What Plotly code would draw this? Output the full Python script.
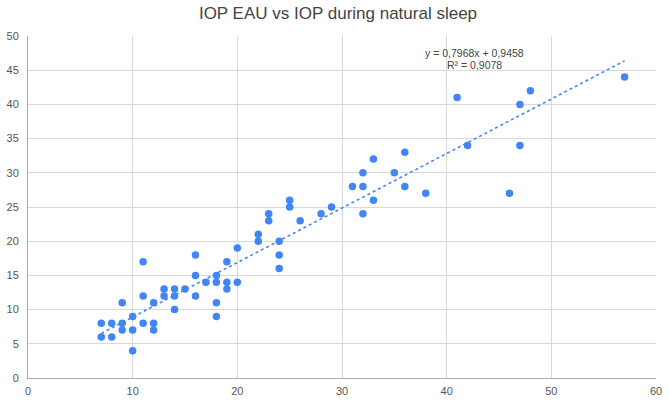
import plotly.graph_objects as go

# IOP during natural sleep (x) vs IOP EAU (y)
iop_sleep = [7, 7, 8, 8, 9, 9, 9, 10, 10, 10, 11, 11, 11, 12, 12, 12, 13, 13, 14, 14, 14, 15,
             16, 16, 16, 17, 18, 18, 18, 18, 19, 19, 19, 20, 20, 22, 22, 23, 23, 24, 24, 24,
             25, 25, 26, 28, 29, 31, 32, 32, 32, 33, 33, 35, 36, 36, 38, 41, 42, 46, 47, 47, 48, 57]
iop_eau = [8, 6, 8, 6, 8, 7, 11, 9, 7, 4, 17, 12, 8, 11, 8, 7, 13, 12, 13, 12, 10, 13,
           18, 15, 12, 14, 15, 14, 11, 9, 17, 14, 13, 19, 14, 21, 20, 24, 23, 20, 18, 16,
           26, 25, 23, 24, 25, 28, 30, 28, 24, 32, 26, 30, 33, 28, 27, 41, 34, 27, 40, 34, 42, 44]

SLOPE = 0.7968
INTERCEPT = 0.9458
R2 = 0.9078

x_ticks = [0, 10, 20, 30, 40, 50, 60]
y_ticks = [0, 5, 10, 15, 20, 25, 30, 35, 40, 45, 50]

BLUE = "#4285F4"
FONT = "Liberation Sans, Arial, sans-serif"

x_min, x_max = min(iop_sleep), max(iop_sleep)
trend_x = [x_min, x_max]
trend_y = [SLOPE * v + INTERCEPT for v in trend_x]

fig = go.Figure()
fig.add_trace(go.Scatter(
    x=iop_sleep, y=iop_eau, mode="markers",
    marker=dict(color=BLUE, size=7.5, line=dict(width=0)),
    showlegend=False, hoverinfo="x+y",
))
fig.add_trace(go.Scatter(
    x=trend_x, y=trend_y, mode="lines",
    line=dict(color=BLUE, width=1.6, dash="dot"),
    showlegend=False, hoverinfo="skip",
))

def fmt(v):
    return f"{v:.4f}".replace(".", ",")

fig.add_annotation(x=42.7, y=47.5, xref="x", yref="y", showarrow=False,
                   text=f"y = {fmt(SLOPE)}x + {fmt(INTERCEPT)}",
                   font=dict(family=FONT, size=10.5, color="#444444"),
                   xanchor="center", yanchor="middle")
fig.add_annotation(x=42.7, y=45.75, xref="x", yref="y", showarrow=False,
                   text=f"R² = {fmt(R2)}",
                   font=dict(family=FONT, size=10.5, color="#444444"),
                   xanchor="center", yanchor="middle")

fig.update_layout(
    width=669, height=404,
    margin=dict(l=25.5, r=7, t=36, b=20.7),
    paper_bgcolor="white", plot_bgcolor="white",
    title=dict(text="IOP EAU vs IOP during natural sleep",
               font=dict(family=FONT, size=17, color="#444444"),
               x=338 / 669, xanchor="center", y=1 - 13.5 / 404, yanchor="middle"),
    font=dict(family=FONT, size=11, color="#555555"),
)
fig.update_xaxes(range=[0, 60], tickvals=x_ticks, ticktext=[str(v) for v in x_ticks],
                 showgrid=True, gridcolor="#d9d9d9", gridwidth=1,
                 showline=True, linecolor="#aaaaaa", linewidth=1,
                 zeroline=False, ticks="", ticklabelstandoff=3)
fig.update_yaxes(range=[0, 50], tickvals=y_ticks, ticktext=[str(v) for v in y_ticks],
                 showgrid=True, gridcolor="#d9d9d9", gridwidth=1,
                 showline=True, linecolor="#aaaaaa", linewidth=1,
                 zeroline=False, ticks="", ticklabelstandoff=6)

fig.write_html("out.html")
